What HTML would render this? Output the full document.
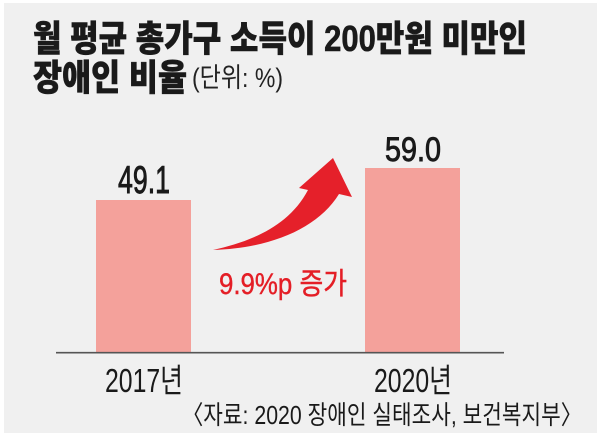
<!DOCTYPE html>
<html>
<head>
<meta charset="utf-8">
<style>
  html, body { margin:0; padding:0; background:#ffffff; }
  svg { display:block; }
</style>
</head>
<body>
<svg width="600" height="440" viewBox="0 0 600 440" xmlns="http://www.w3.org/2000/svg">
  <rect x="0" y="0" width="600" height="440" fill="#ffffff"/>
  <rect x="4" y="3" width="593" height="430" fill="#f0f0f0"/>

  <!-- Title -->
  <text x="33" y="51" font-family="'Liberation Sans','Noto Sans CJK KR',sans-serif" font-weight="900" font-size="36" fill="#1a1a1a" stroke="#1a1a1a" stroke-width="0.6" textLength="494" lengthAdjust="spacingAndGlyphs">월 평균 총가구 소득이 200만원 미만인</text>
  <text x="33" y="90" font-family="'Liberation Sans','Noto Sans CJK KR',sans-serif" font-weight="900" font-size="36" fill="#1a1a1a" stroke="#1a1a1a" stroke-width="0.6" textLength="154" lengthAdjust="spacingAndGlyphs">장애인 비율</text>
  <text x="192" y="87" font-family="'Liberation Sans','Noto Sans CJK KR',sans-serif" font-size="27" fill="#222" textLength="91" lengthAdjust="spacingAndGlyphs">(단위: %)</text>

  <!-- Bars -->
  <rect x="96" y="200" width="95" height="153" fill="#f4a19b"/>
  <rect x="365" y="168" width="95" height="185" fill="#f4a19b"/>

  <!-- Axis -->
  <line x1="56" y1="352.7" x2="504" y2="352.7" stroke="#555" stroke-width="1.6"/>

  <!-- Value labels -->
  <text x="118" y="193" font-family="'Liberation Sans',sans-serif" font-size="39" fill="#1a1a1a" stroke="#1a1a1a" stroke-width="0.9" textLength="52" lengthAdjust="spacingAndGlyphs">49.1</text>
  <text x="385" y="161" font-family="'Liberation Sans',sans-serif" font-size="34" fill="#1a1a1a" stroke="#1a1a1a" stroke-width="0.9" textLength="56" lengthAdjust="spacingAndGlyphs">59.0</text>

  <!-- Arrow -->
  <path d="M213,250 C248,242 288,228 308,190 L299,188 L333,158 L352,197 L339,194 C318,228 272,248 213,250 Z" fill="#e5202a"/>

  <!-- Increase text -->
  <text x="219" y="294" font-family="'Liberation Sans','Noto Sans CJK KR',sans-serif" font-size="30" fill="#e41e26" stroke="#e41e26" stroke-width="0.4" textLength="128" lengthAdjust="spacingAndGlyphs">9.9%p 증가</text>

  <!-- Category labels -->
  <text x="105" y="392" font-family="'Liberation Sans','Noto Sans CJK KR',sans-serif" font-size="33" fill="#1a1a1a" textLength="78" lengthAdjust="spacingAndGlyphs">2017년</text>
  <text x="374" y="392" font-family="'Liberation Sans','Noto Sans CJK KR',sans-serif" font-size="33" fill="#1a1a1a" textLength="78" lengthAdjust="spacingAndGlyphs">2020년</text>

  <!-- Source -->
  <text x="182" y="424" font-family="'Liberation Sans','Noto Sans CJK KR',sans-serif" font-size="26" fill="#1a1a1a" textLength="400" lengthAdjust="spacingAndGlyphs">〈자료: 2020 장애인 실태조사, 보건복지부〉</text>
</svg>
</body>
</html>
